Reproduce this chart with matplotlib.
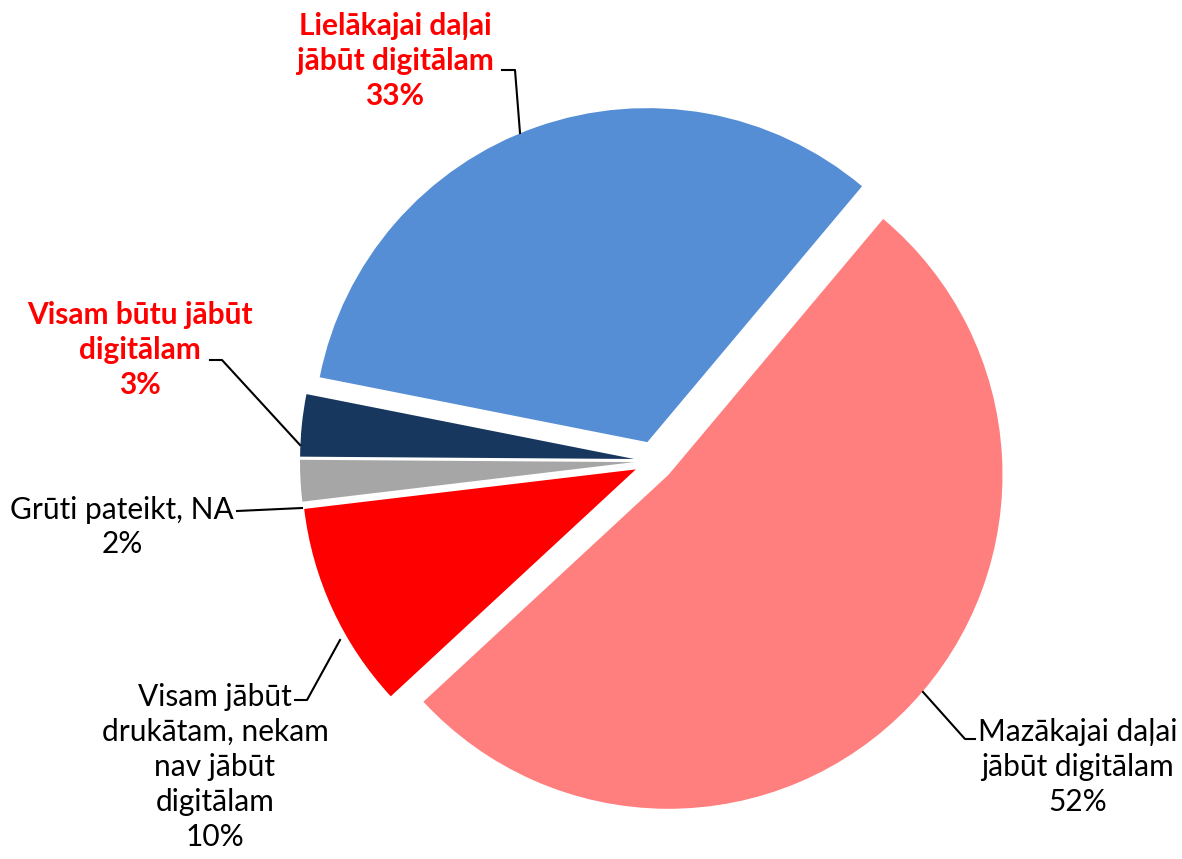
import matplotlib.pyplot as plt

W, H = 1182, 859

labels = ['Mazākajai daļai\njābūt digitālam\n52%',
          'Visam jābūt\ndrukātam, nekam\nnav jābūt\ndigitālam\n10%',
          'Grūti pateikt, NA\n2%',
          'Visam būtu jābūt\ndigitālam\n3%',
          'Lielākajai daļai\njābūt digitālam\n33%']
values = [52, 10, 2, 3, 33]
colors = ['#FF7F7F', '#FF0000', '#A6A6A6', '#17375E', '#558ED5']
highlight = [False, False, False, True, True]

# label block centres and leader lines (image pixel coords, y down)
text_pos = [(1078, 767), (215, 767), (122, 527), (140, 350), (395, 61)]
leaders = [[(975, 739), (965, 739), (923, 692)],
           [(295, 700), (307, 700), (340, 640)],
           [(237, 511), (302, 508)],
           [(210, 360), (222, 360), (300, 445)],
           [(502, 70), (515, 70), (520, 133)]]

plt.rcParams['font.family'] = ['Lato', 'DejaVu Sans']

fig = plt.figure(figsize=(W / 100, H / 100), dpi=100)
ax = fig.add_axes([0, 0, 1, 1])

r = 334
ax.pie(values, colors=colors, startangle=50, counterclock=False,
       radius=r, center=(654, H - 461), explode=[20] * 5,
       wedgeprops=dict(linewidth=0))
ax.set_xlim(0, W)
ax.set_ylim(0, H)
ax.axis('off')

for lab, (x, y), hl, line in zip(labels, text_pos, highlight, leaders):
    ax.text(x, H - y, lab, ha='center', va='center', multialignment='center',
            fontsize=21.5, linespacing=1.3,
            color='#FF0000' if hl else 'black',
            fontweight='bold' if hl else 'normal')
    ax.plot([p[0] for p in line], [H - p[1] for p in line], color='black', lw=1.5)

fig.savefig('out.png', dpi=100)
